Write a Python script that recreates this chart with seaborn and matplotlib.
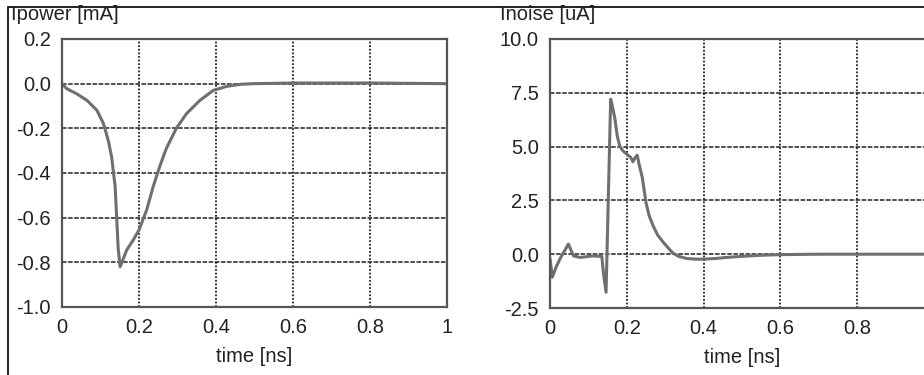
import numpy as np
import pandas as pd
import matplotlib
matplotlib.use("Agg")
import matplotlib.pyplot as plt
import seaborn as sns
from matplotlib.patches import Rectangle

# Ipower [mA] vs time [ns]
t_power = [0.0, 0.012, 0.038, 0.065, 0.091, 0.108, 0.121, 0.129, 0.138, 0.142, 0.146,
           0.151, 0.168, 0.185, 0.2, 0.22, 0.237, 0.254, 0.271, 0.297, 0.323, 0.358,
           0.393, 0.428, 0.463, 0.497, 0.6, 0.8, 1.0]
i_power = [0.0, -0.022, -0.045, -0.075, -0.12, -0.18, -0.26, -0.33, -0.46, -0.6, -0.74,
           -0.82, -0.745, -0.70, -0.655, -0.565, -0.46, -0.37, -0.29, -0.2, -0.135, -0.075,
           -0.03, -0.012, -0.003, 0.0, 0.003, 0.003, 0.0]

# Inoise [uA] vs time [ns]
t_noise = [0.0, 0.006, 0.017, 0.03, 0.048, 0.061, 0.078, 0.113, 0.13, 0.135, 0.139,
           0.146, 0.158, 0.162, 0.169, 0.175, 0.182, 0.19, 0.2, 0.21, 0.216, 0.222,
           0.227, 0.233, 0.24, 0.245, 0.25, 0.258, 0.269, 0.28, 0.295, 0.31, 0.32,
           0.335, 0.356, 0.38, 0.4, 0.43, 0.46, 0.5, 0.55, 0.6, 0.7, 0.8, 1.0]
i_noise = [-0.2, -1.07, -0.55, -0.08, 0.47, -0.08, -0.15, -0.08, -0.1, -0.1, -0.85,
           -1.77, 7.2, 6.9, 6.3, 5.5, 5.0, 4.8, 4.65, 4.5, 4.3, 4.5,
           4.6, 4.1, 3.6, 3.0, 2.4, 1.8, 1.3, 0.9, 0.55, 0.25, 0.05,
           -0.1, -0.2, -0.23, -0.23, -0.2, -0.15, -0.1, -0.05, -0.02, 0.0, 0.0, 0.0]

power_df = pd.DataFrame({"t": t_power, "i": i_power})
noise_df = pd.DataFrame({"t": t_noise, "i": i_noise})

sns.set_style("white")
plt.rcParams["font.family"] = ["Liberation Sans", "DejaVu Sans"]

W, H = 924, 375
fig = plt.figure(figsize=(W / 100, H / 100), dpi=100)

def px_axes(x0, y0, x1, y1):
    return fig.add_axes([x0 / W, 1 - y1 / H, (x1 - x0) / W, (y1 - y0) / H])

LINE = "#6f6f6f"
TXT = "#222222"
FS = 14.5

panels = [
    (px_axes(62, 39, 447, 307), power_df, (-1.0, 0.2), [-1.0, -0.8, -0.6, -0.4, -0.2, 0.0, 0.2],
     ["0", "0.2", "0.4", "0.6", "0.8", "1"], "Ipower [mA]", 11),
    (px_axes(550, 39, 934, 308), noise_df, (-2.5, 10.0), [-2.5, 0.0, 2.5, 5.0, 7.5, 10.0],
     ["0", "0.2", "0.4", "0.6", "0.8", ""], "Inoise [uA]", 500),
]

for ax, df, ylim, yticks, xlabels, title, title_x in panels:
    sns.lineplot(data=df, x="t", y="i", ax=ax, color=LINE, linewidth=2.2, sort=False,
                 estimator=None)
    ax.set_xlim(0, 1)
    ax.set_ylim(*ylim)
    ax.set_yticks(yticks)
    ax.set_yticklabels([f"{v:.1f}" for v in yticks])
    ax.set_xticks([0, 0.2, 0.4, 0.6, 0.8, 1.0])
    ax.set_xticklabels(xlabels)
    ax.tick_params(length=0, labelsize=FS, labelcolor=TXT, pad=8)
    ax.xaxis.grid(True, color="#222222", linestyle=(0, (1, 1)), linewidth=1.3)
    ax.yaxis.grid(True, color="#222222", linestyle=(0, (3, 1)), linewidth=1.1)
    ax.set_axisbelow(True)
    for s in ax.spines.values():
        s.set_color("#555555")
        s.set_linewidth(1.6)
        s.set_visible(True)
    ax.set_xlabel("time [ns]", fontsize=FS, color=TXT, labelpad=7)
    ax.set_ylabel("")
    fig.text(title_x / W, 1 - 15 / H, title, fontsize=FS, color=TXT,
             ha="left", va="center")

# outer frame of the screenshot
fig.patches.append(Rectangle((8 / W, -0.1), 1.0, 1 - 7 / H + 0.1,
                             transform=fig.transFigure, fill=False,
                             edgecolor="#111111", linewidth=1.3))

fig.savefig("out.png", dpi=100)
